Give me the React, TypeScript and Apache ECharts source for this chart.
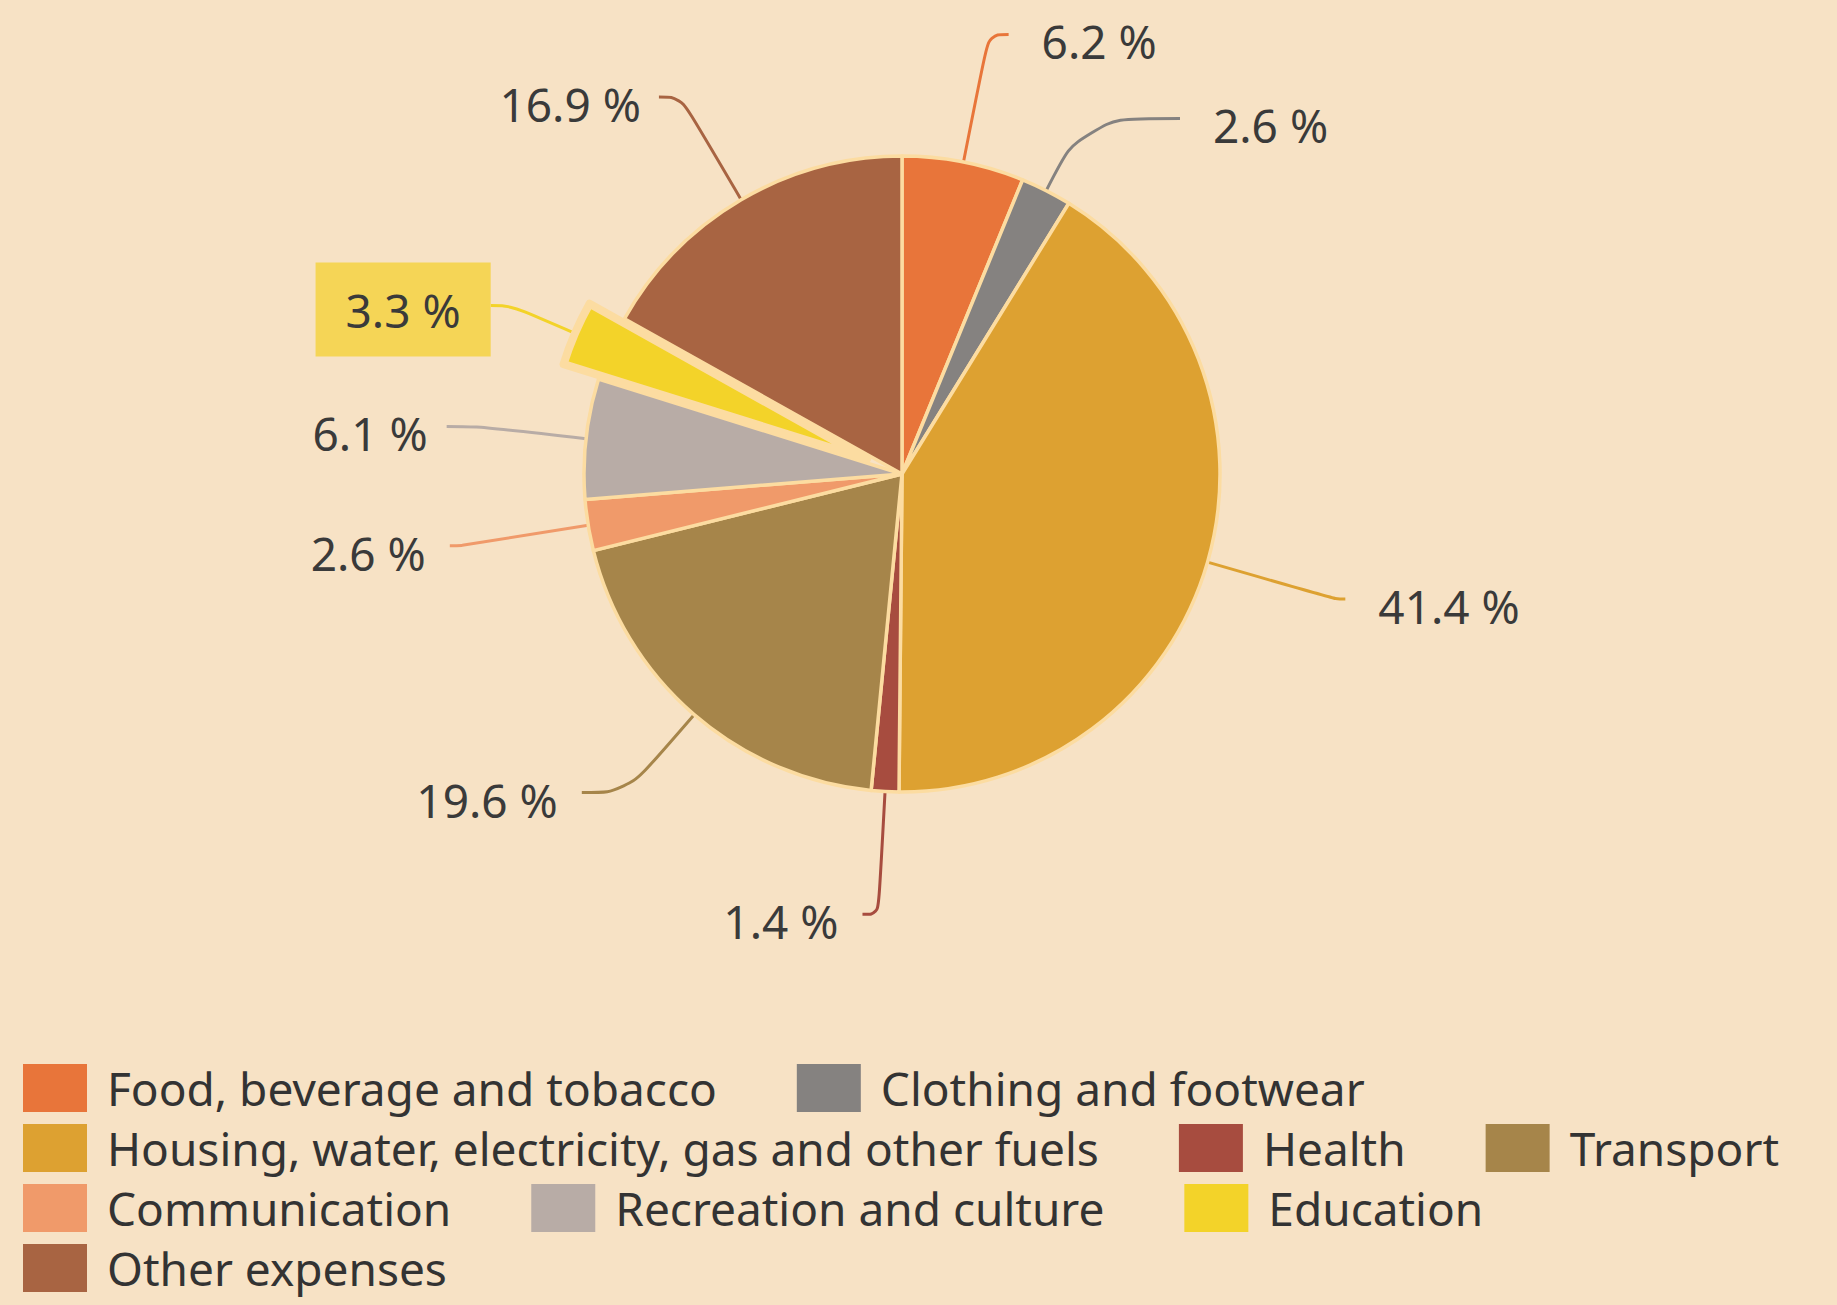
import React, { useEffect, useRef } from 'react';
import * as echarts from 'echarts';

const categories = [
  'Food, beverage and tobacco',
  'Clothing and footwear',
  'Housing, water, electricity, gas and other fuels',
  'Health',
  'Transport',
  'Communication',
  'Recreation and culture',
  'Education',
  'Other expenses',
];
const shares = [6.2, 2.6, 41.4, 1.4, 19.6, 2.6, 6.1, 3.3, 16.9];
const sliceColors = ['#E8753A', '#858280', '#DDA131', '#A74C3F', '#A6854A', '#F09A6A', '#B8ACA6', '#F3D329', '#A86442'];
const highlighted = 'Education';
const legendRows = [
  ['Food, beverage and tobacco', 'Clothing and footwear'],
  ['Housing, water, electricity, gas and other fuels', 'Health', 'Transport'],
  ['Communication', 'Recreation and culture', 'Education'],
  ['Other expenses'],
];

// layout-only settings (label line segment lengths and label gaps)
const lineLengths: [number, number][] = [
  [130, 20], [81, 97], [133, 10], [123, 16], [103, 45], [128, 12], [110, 30], [70, 20], [119, 22],
];
const labelGaps = [33, 33, 33, 24, 24, 24, 19, 0, 18];

export default function App() {
  const ref = useRef<HTMLDivElement>(null);
  useEffect(() => {
    document.body.style.margin = '0';
    const chart = echarts.init(ref.current!, null, { renderer: 'svg' });
    const data = shares.map((v, i) => {
      const isHi = categories[i] === highlighted;
      return {
        value: v,
        name: categories[i],
        selected: isHi,
        itemStyle: { color: sliceColors[i], ...(isHi ? { borderWidth: 8 } : {}) },
        labelLine: { length: lineLengths[i][0], length2: lineLengths[i][1] },
        label: isHi
          ? { distanceToLabelLine: labelGaps[i], backgroundColor: '#F5D556', padding: [24, 30, 24, 30] }
          : { distanceToLabelLine: labelGaps[i] },
      };
    });
    chart.setOption({
      animation: false,
      backgroundColor: '#F7E2C5',
      legend: legendRows.map((row, r) => ({
        data: row,
        left: 23,
        top: 1064 + r * 60,
        orient: 'horizontal',
        icon: 'rect',
        itemWidth: 64,
        itemHeight: 48,
        itemGap: 80,
        padding: 0,
        selectedMode: false,
        itemStyle: { borderWidth: 0 },
        textStyle: {
          fontFamily: 'Noto Sans',
          fontSize: 46,
          color: '#333333',
          lineHeight: 48,
          padding: [0, 0, 0, 15],
        },
      })),
      series: [
        {
          type: 'pie',
          center: [902, 474],
          radius: 318,
          startAngle: 90,
          clockwise: true,
          selectedMode: 'single',
          selectedOffset: 38,
          avoidLabelOverlap: false,
          emphasis: { scale: false },
          itemStyle: { borderColor: '#FCDCA1', borderWidth: 3.5 },
          label: {
            show: true,
            position: 'outside',
            formatter: (p: any) => p.value.toFixed(1) + ' %',
            fontFamily: 'Noto Sans',
            fontSize: 46,
            color: '#3A3A3A',
          },
          labelLayout: (p: any) => (p.dataIndex === 7 ? { dy: 4 } : { dy: 7 }),
          labelLine: { show: true, smooth: 0.4, lineStyle: { width: 3 } },
          data,
        },
      ],
    });
    return () => chart.dispose();
  }, []);
  return <div ref={ref} style={{ width: 1837, height: 1305 }} />;
}
